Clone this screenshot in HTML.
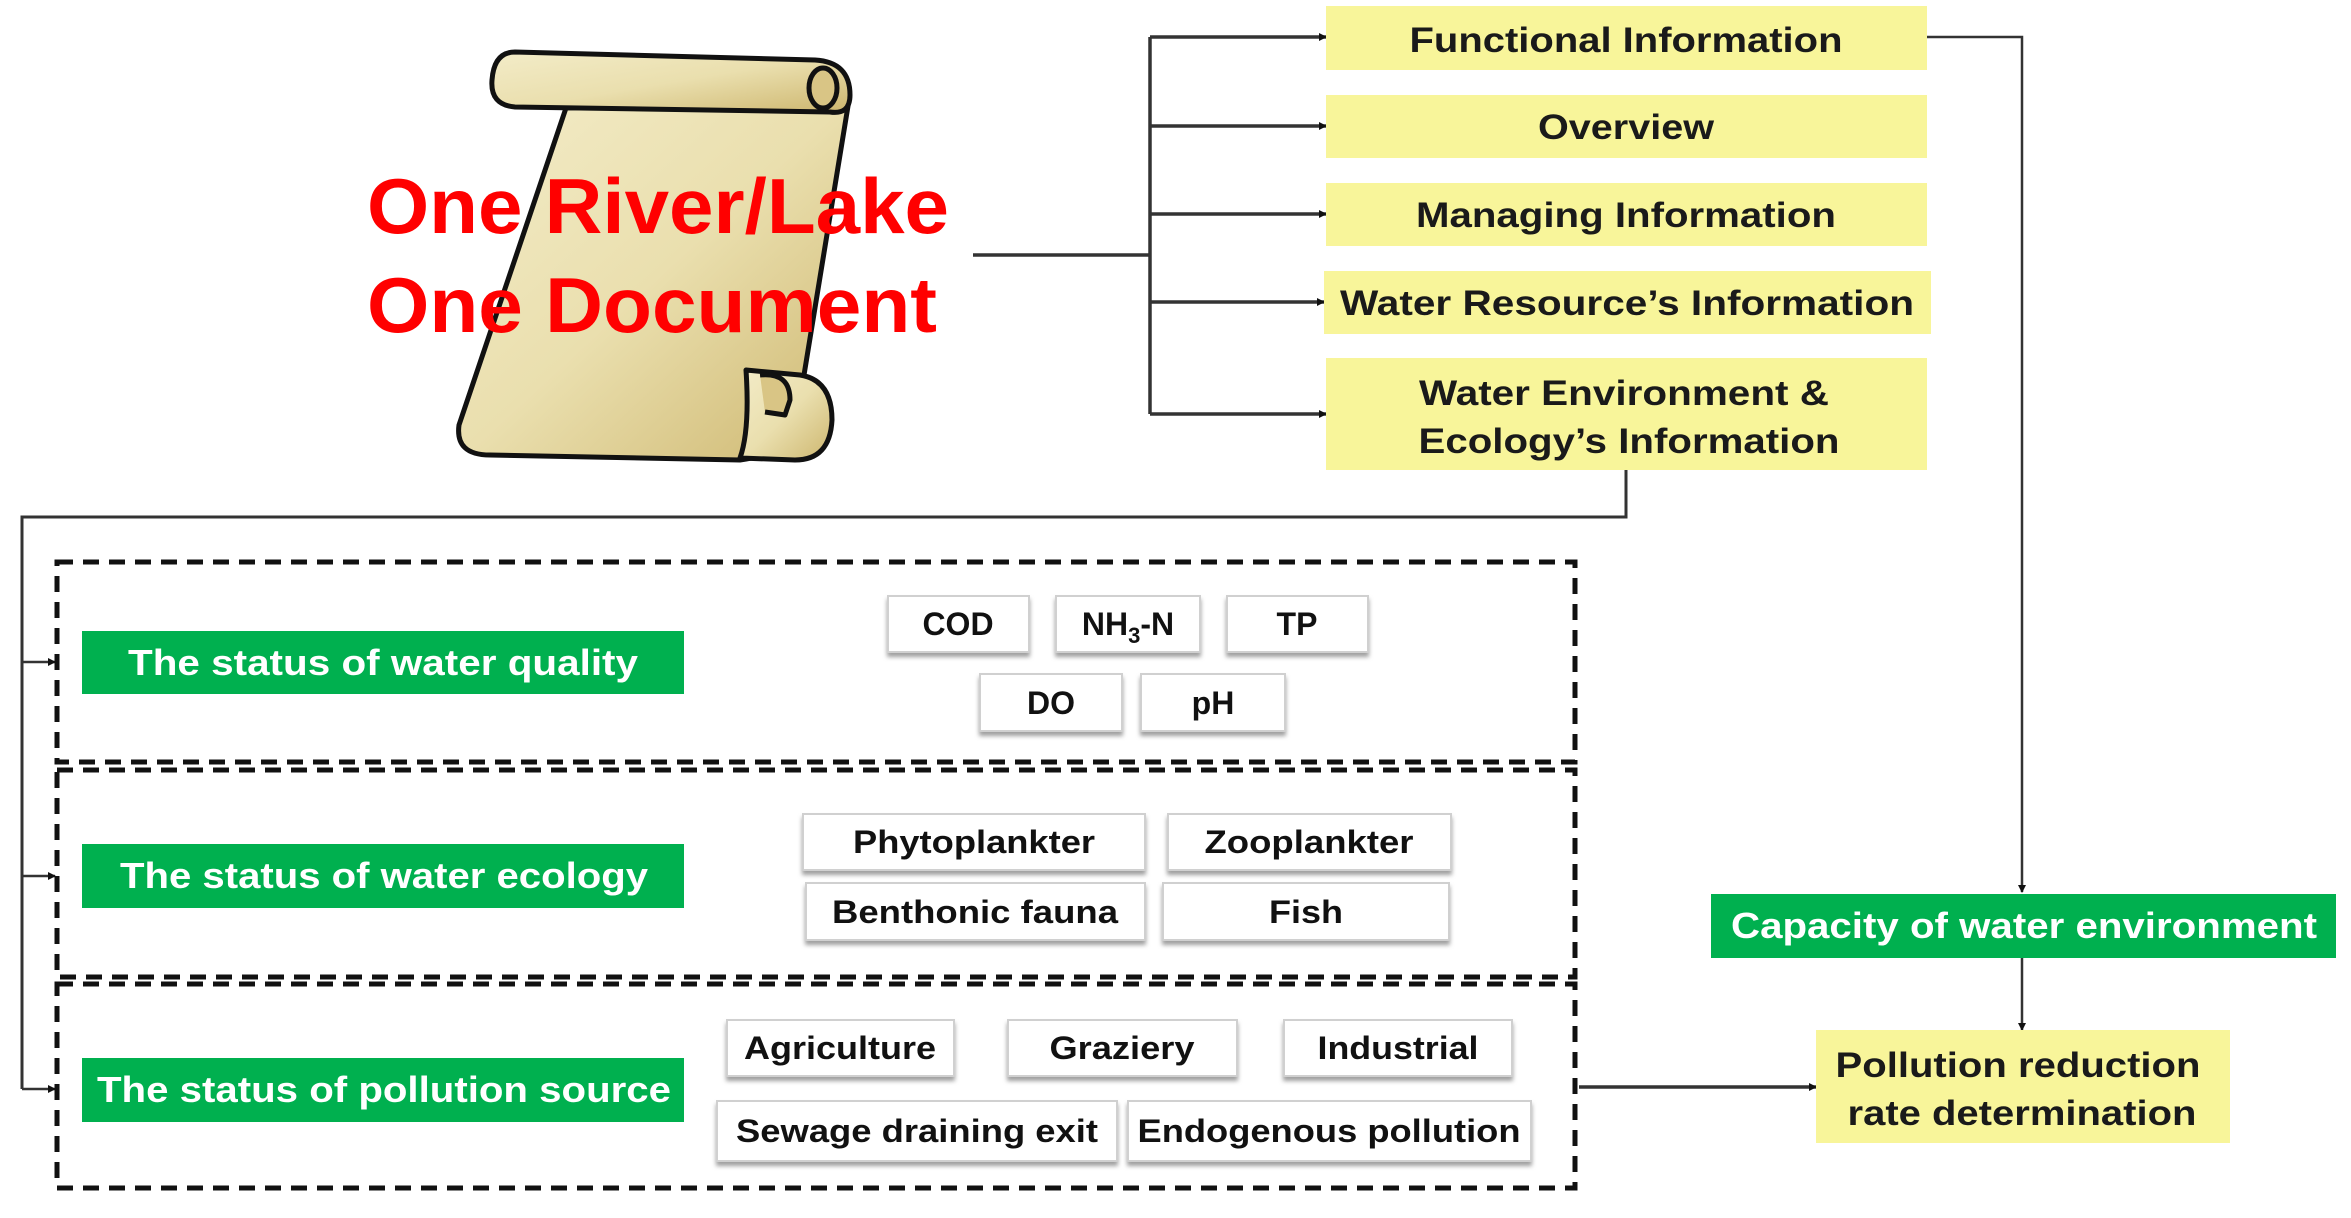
<!DOCTYPE html>
<html><head><meta charset="utf-8"><style>
html,body{margin:0;padding:0;background:#fff;width:2351px;height:1218px;overflow:hidden}
svg{display:block}
text{font-family:"Liberation Sans",Arial,sans-serif;font-weight:bold}
</style></head><body>
<svg width="2351" height="1218" viewBox="0 0 2351 1218" xmlns="http://www.w3.org/2000/svg">
<defs>
<linearGradient id="pg" x1="0" y1="0" x2="1" y2="1">
<stop offset="0" stop-color="#f3ecc8"/><stop offset="0.5" stop-color="#eadfae"/><stop offset="1" stop-color="#cdb66e"/>
</linearGradient>
<marker id="ah" markerWidth="8" markerHeight="8" refX="7" refY="4" orient="auto" markerUnits="userSpaceOnUse">
<path d="M0,0 L8,4 L0,8 z" fill="#111"/>
</marker>
<filter id="sh" x="-10%" y="-10%" width="120%" height="140%">
<feDropShadow dx="0" dy="4" stdDeviation="2" flood-color="#777" flood-opacity="0.7"/>
</filter>
</defs>

<!-- Scroll -->
<g stroke="#111" stroke-width="5" stroke-linejoin="round">
<path d="M566,108 L459,425 Q455,455 490,455 L740,460 Q780,455 795,430 L849,100 Z" fill="url(#pg)"/>
<path d="M515,52 L815,60 Q850,62 850,95 Q850,115 830,112 L515,107 Q490,105 492,80 Q494,52 515,52 Z" fill="url(#pg)"/>
<ellipse cx="823" cy="88" rx="14" ry="20" fill="#d9c585"/>
<path d="M746,370 L800,375 Q832,380 832,420 Q830,460 795,460 L740,458 Q750,430 746,370 Z" fill="url(#pg)"/>
<path d="M760,375 Q790,372 790,400 L785,415 L765,412" fill="#d9c585"/>
</g>

<text x="367" y="233" font-size="78" fill="#ff0000" textLength="582" lengthAdjust="spacingAndGlyphs">One River/Lake</text>
<text x="367" y="332" font-size="78" fill="#ff0000" textLength="570" lengthAdjust="spacingAndGlyphs">One Document</text>

<!-- top connectors -->
<g stroke="#333" stroke-width="3.5" fill="none">
<line x1="973" y1="255" x2="1150" y2="255"/>
<line x1="1150" y1="37" x2="1150" y2="414"/>
<line x1="1150" y1="37" x2="1326" y2="37" marker-end="url(#ah)"/>
<line x1="1150" y1="126" x2="1326" y2="126" marker-end="url(#ah)"/>
<line x1="1150" y1="214" x2="1326" y2="214" marker-end="url(#ah)"/>
<line x1="1150" y1="302" x2="1324" y2="302" marker-end="url(#ah)"/>
<line x1="1150" y1="414" x2="1326" y2="414" marker-end="url(#ah)"/>
<polyline points="1927,37 2022,37 2022,892" marker-end="url(#ah)" stroke-width="2.5"/>
<line x1="2022" y1="958" x2="2022" y2="1030" marker-end="url(#ah)" stroke-width="2.5"/>
<line x1="1579" y1="1087" x2="1816" y2="1087" marker-end="url(#ah)"/>
<polyline points="1626,470 1626,517 22,517 22,1089" stroke-width="3"/>
<line x1="22" y1="662" x2="55" y2="662" marker-end="url(#ah)" stroke-width="2.5"/>
<line x1="22" y1="876" x2="55" y2="876" marker-end="url(#ah)" stroke-width="2.5"/>
<line x1="22" y1="1089" x2="55" y2="1089" marker-end="url(#ah)" stroke-width="2.5"/>
</g>

<!-- yellow boxes -->
<g fill="#f8f59a">
<rect x="1326" y="6" width="601" height="64"/>
<rect x="1326" y="95" width="601" height="63"/>
<rect x="1326" y="183" width="601" height="63"/>
<rect x="1324" y="271" width="607" height="63"/>
<rect x="1326" y="358" width="601" height="112"/>
<rect x="1816" y="1030" width="414" height="113"/>
</g>
<g fill="#1a1a1a" font-size="35" text-anchor="middle">
<text x="1626" y="52" textLength="433" lengthAdjust="spacingAndGlyphs">Functional Information</text>
<text x="1626" y="139" textLength="176" lengthAdjust="spacingAndGlyphs">Overview</text>
<text x="1626" y="227" textLength="420" lengthAdjust="spacingAndGlyphs">Managing Information</text>
<text x="1627" y="315" textLength="574" lengthAdjust="spacingAndGlyphs">Water Resource’s Information</text>
<text x="1624" y="405" textLength="410" lengthAdjust="spacingAndGlyphs">Water Environment &amp;</text>
<text x="1629" y="453" textLength="421" lengthAdjust="spacingAndGlyphs">Ecology’s Information</text>
<text x="2018" y="1077" textLength="365" lengthAdjust="spacingAndGlyphs">Pollution reduction</text>
<text x="2022" y="1125" textLength="349" lengthAdjust="spacingAndGlyphs">rate determination</text>
</g>

<!-- green boxes -->
<g fill="#00b04f">
<rect x="82" y="631" width="602" height="63"/>
<rect x="82" y="844" width="602" height="64"/>
<rect x="82" y="1058" width="602" height="64"/>
<rect x="1711" y="894" width="625" height="64"/>
</g>
<g fill="#fff" font-size="36" text-anchor="middle">
<text x="383" y="675" textLength="510" lengthAdjust="spacingAndGlyphs">The status of water quality</text>
<text x="384" y="888" textLength="528" lengthAdjust="spacingAndGlyphs">The status of water ecology</text>
<text x="384" y="1102" textLength="574" lengthAdjust="spacingAndGlyphs">The status of pollution source</text>
<text x="2024" y="938" textLength="586" lengthAdjust="spacingAndGlyphs">Capacity of water environment</text>
</g>

<!-- dashed boxes -->
<g fill="none" stroke="#111" stroke-width="5" stroke-dasharray="16 10">
<rect x="57" y="562" width="1518" height="200"/>
<rect x="57" y="770" width="1518" height="207"/>
<rect x="57" y="984" width="1518" height="204"/>
</g>

<!-- small boxes -->
<g fill="#fff" stroke="#d0d0d0" stroke-width="2" filter="url(#sh)">
<rect x="888" y="596" width="141" height="56"/>
<rect x="1056" y="596" width="144" height="56"/>
<rect x="1227" y="596" width="141" height="56"/>
<rect x="980" y="674" width="142" height="57"/>
<rect x="1141" y="674" width="144" height="57"/>
<rect x="803" y="814" width="342" height="56"/>
<rect x="1168" y="814" width="283" height="56"/>
<rect x="806" y="883" width="339" height="57"/>
<rect x="1163" y="883" width="286" height="57"/>
<rect x="727" y="1020" width="227" height="56"/>
<rect x="1008" y="1020" width="229" height="56"/>
<rect x="1284" y="1020" width="228" height="56"/>
<rect x="717" y="1101" width="400" height="60"/>
<rect x="1128" y="1101" width="403" height="60"/>
</g>
<g fill="#111" font-size="32" text-anchor="middle">
<text x="958" y="635">COD</text>
<text x="1128" y="635">NH<tspan font-size="22" dy="8">3</tspan><tspan dy="-8">-N</tspan></text>
<text x="1297" y="635">TP</text>
<text x="1051" y="714">DO</text>
<text x="1213" y="714">pH</text>
<text x="974" y="853" textLength="242" lengthAdjust="spacingAndGlyphs">Phytoplankter</text>
<text x="1309" y="853" textLength="209" lengthAdjust="spacingAndGlyphs">Zooplankter</text>
<text x="975" y="923" textLength="286" lengthAdjust="spacingAndGlyphs">Benthonic fauna</text>
<text x="1306" y="923" textLength="74" lengthAdjust="spacingAndGlyphs">Fish</text>
<text x="840" y="1059" textLength="192" lengthAdjust="spacingAndGlyphs">Agriculture</text>
<text x="1122" y="1059" textLength="145" lengthAdjust="spacingAndGlyphs">Graziery</text>
<text x="1398" y="1059" textLength="161" lengthAdjust="spacingAndGlyphs">Industrial</text>
<text x="917" y="1142" textLength="362" lengthAdjust="spacingAndGlyphs">Sewage draining exit</text>
<text x="1329" y="1142" textLength="383" lengthAdjust="spacingAndGlyphs">Endogenous pollution</text>
</g>
</svg>
</body></html>
